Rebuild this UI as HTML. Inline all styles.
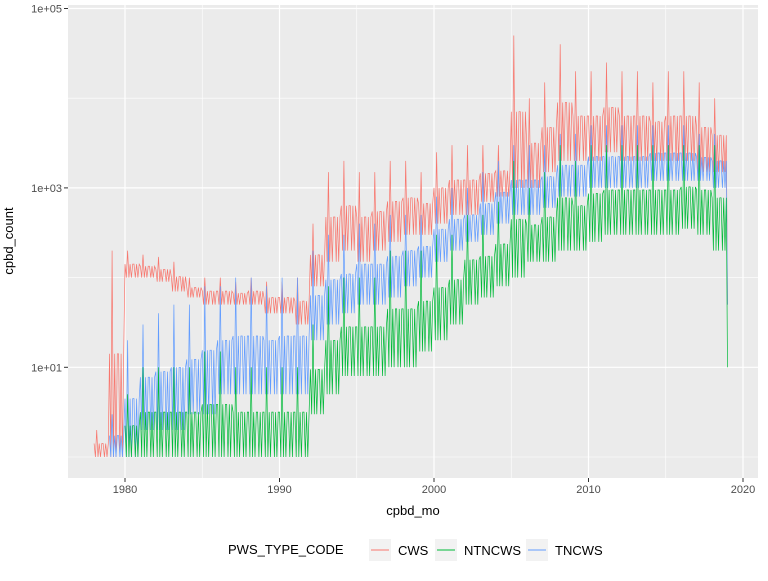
<!DOCTYPE html>
<html><head><meta charset="utf-8"><style>
body{margin:0;background:#fff;font-family:"Liberation Sans",sans-serif}
</style></head><body>
<svg width="768" height="576" xmlns="http://www.w3.org/2000/svg">
<rect x="68" y="5" width="690" height="473" fill="#ebebeb"/>
<g id="grid"></g>
<g id="series" clip-path="url(#cp)"></g>
<defs><clipPath id="cp"><rect x="68" y="5" width="690" height="473"/></clipPath></defs>
<g id="axes" font-size="11" fill="#4d4d4d"></g>
<text x="13" y="241" transform="rotate(-90 13 241)" text-anchor="middle" font-size="13" fill="#000">cpbd_count</text>
<text x="413" y="515" text-anchor="middle" font-size="13" fill="#000">cpbd_mo</text>
<g font-size="13">
<text x="228" y="554" fill="#000">PWS_TYPE_CODE</text>
<g><rect x="369" y="539" width="22" height="22" fill="#f2f2f2"/><line x1="371" y1="550" x2="389" y2="550" stroke="#F8766D"/><text x="398" y="555">CWS</text></g>
<g><rect x="435" y="539" width="22" height="22" fill="#f2f2f2"/><line x1="437" y1="550" x2="455" y2="550" stroke="#00BA38"/><text x="464" y="555">NTNCWS</text></g>
<g><rect x="526" y="539" width="22" height="22" fill="#f2f2f2"/><line x1="528" y1="550" x2="546" y2="550" stroke="#619CFF"/><text x="555" y="555">TNCWS</text></g>
</g>
</svg>
<script>
const years=[1978,1979,1980,1981,1982,1983,1984,1985,1986,1987,1988,1989,1990,1991,1992,1993,1994,1995,1996,1997,1998,1999,2000,2001,2002,2003,2004,2005,2006,2007,2008,2009,2010,2011,2012,2013,2014,2015,2016,2017,2018];
const cwsHi=[2,200,200,180,170,150,100,100,100,90,100,90,90,100,400,1500,2000,1500,1500,2000,2000,1500,2500,3000,3000,3000,3000,50000,10000,15000,40000,20000,20000,25000,20000,20000,15000,20000,20000,15000,10000];
const cwsLo=[1,1,100,100,90,70,60,50,50,50,50,40,40,30,80,150,200,150,200,250,300,300,400,500,500,700,800,1000,1000,1500,2000,2000,2000,2500,2000,2000,2000,2000,2000,1500,1500];
const tncHi=[null,3,20,30,40,50,50,80,80,100,100,80,100,100,200,300,300,400,400,500,500,500,800,1000,1000,1500,2000,3000,3000,3000,4000,4000,5000,5000,5000,5000,5000,5000,5000,4000,4000];
const tncLo=[null,1,1,2,2,2,3,3,5,5,5,5,5,5,20,30,40,50,50,60,80,100,150,200,250,300,400,500,500,600,800,800,1000,1000,1000,1000,1200,1200,1200,1200,1000];
const ntnHi=[null,null,5,10,10,10,10,15,15,10,10,10,10,10,30,80,100,100,100,200,200,200,300,300,500,500,700,2000,1000,1500,3000,2000,3000,3000,3000,3000,3000,3000,3000,3000,3000];
const ntnLo=[null,null,1,1,1,1,1,1,1,1,1,1,1,1,3,5,8,8,8,10,10,15,20,30,50,60,80,100,150,150,200,200,250,300,300,300,300,300,350,300,200];
const endVals={cws:50,tnc:50,ntn:10};
const yTicks=[1,3,5];const yLabels=["1e+01","1e+03","1e+05"];
const xTicks=[1980,1990,2000,2010,2020];
// month level pattern: 2=hi, 1=mid, 0=lo
const monthPattern=[1,0,2,0,1,0,1,1,0,1,0,1];
const NS="http://www.w3.org/2000/svg";
const X=t=>125+(t-1980)*15.45;
const Y=v=>457-Math.log10(Math.max(v,0.5))*89.7;
function mk(tag,at,parent){const e=document.createElementNS(NS,tag);for(const k in at)e.setAttribute(k,at[k]);parent.appendChild(e);return e;}
const grid=document.getElementById('grid'),axes=document.getElementById('axes'),ser=document.getElementById('series');
[0,2,4].forEach(d=>{const l=mk('line',{x1:68,x2:758,y1:Y(Math.pow(10,d)),y2:Y(Math.pow(10,d)),stroke:'#fff','stroke-width':0.6},grid);

});
[1975,1985,1995,2005,2015].forEach(t=>{const l=mk('line',{x1:X(t),x2:X(t),y1:5,y2:478,stroke:'#fff','stroke-width':0.6},grid);

});
yTicks.forEach((d,i)=>{const y=Y(Math.pow(10,d));
const l=mk('line',{x1:68,x2:758,y1:y,y2:y,stroke:'#fff','stroke-width':1.2},grid);


mk('line',{x1:64,x2:68,y1:y,y2:y,stroke:'#333'},axes);
const t=mk('text',{x:62,y:y+4,'text-anchor':'end'},axes);t.textContent=yLabels[i];

});
xTicks.forEach(v=>{const x=X(v);
const l=mk('line',{x1:x,x2:x,y1:5,y2:478,stroke:'#fff','stroke-width':1.2},grid);


mk('line',{x1:x,x2:x,y1:478,y2:482,stroke:'#333'},axes);
const t=mk('text',{x:x,y:493,'text-anchor':'middle'},axes);t.textContent=v;

});
function series(hi,lo,end,color,name){let pts=[];
years.forEach((yr,i)=>{if(hi[i]==null)return;const mid=Math.sqrt(hi[i]*lo[i]);
for(let m=0;m<12;m++){const k=monthPattern[m];const v=k===2?hi[i]:k===1?mid:lo[i];pts.push(X(yr+m/12).toFixed(1)+','+Y(v).toFixed(1));}});
pts.push(X(2019).toFixed(1)+','+Y(end).toFixed(1));
const p=mk('polyline',{points:pts.join(' '),fill:'none',stroke:color,'stroke-width':0.7},ser);

}
series(cwsHi,cwsLo,endVals.cws,'#F8766D','series-cws');
series(tncHi,tncLo,endVals.tnc,'#619CFF','series-tncws');
series(ntnHi,ntnLo,endVals.ntn,'#00BA38','series-ntncws');
</script>
</body></html>
